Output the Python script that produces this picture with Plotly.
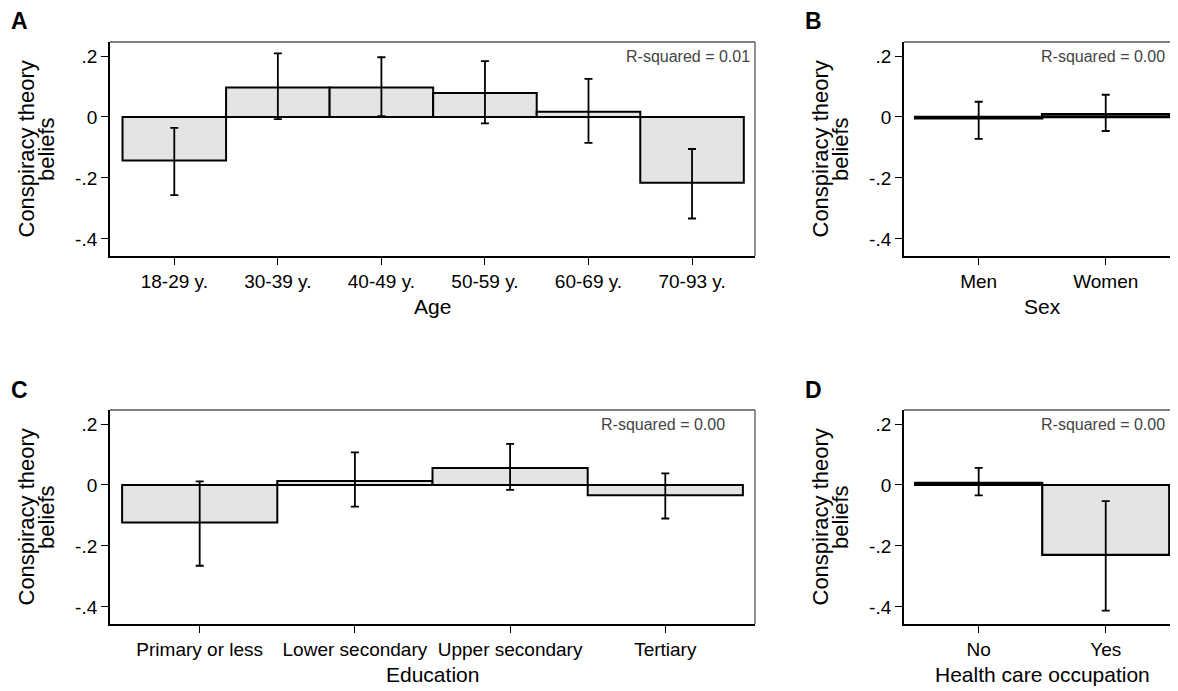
import plotly.graph_objects as go

# ---------------- data ----------------
age_labels = ["18-29 y.", "30-39 y.", "40-49 y.", "50-59 y.", "60-69 y.", "70-93 y."]
age_mean = [-0.143, 0.097, 0.097, 0.079, 0.017, -0.216]
age_lo = [-0.256, -0.007, 0.003, -0.021, -0.085, -0.333]
age_hi = [-0.036, 0.209, 0.196, 0.183, 0.125, -0.105]

sex_labels = ["Men", "Women"]
sex_mean = [-0.004, 0.009]
sex_lo = [-0.072, -0.046]
sex_hi = [0.050, 0.073]

edu_labels = ["Primary or less", "Lower secondary", "Upper secondary", "Tertiary"]
edu_mean = [-0.123, 0.013, 0.056, -0.034]
edu_lo = [-0.265, -0.071, -0.016, -0.110]
edu_hi = [0.012, 0.107, 0.135, 0.038]

hc_labels = ["No", "Yes"]
hc_mean = [0.007, -0.229]
hc_lo = [-0.034, -0.412]
hc_hi = [0.056, -0.053]

r2_texts = ["R-squared = 0.01", "R-squared = 0.00", "R-squared = 0.00", "R-squared = 0.00"]
panel_letters = ["A", "B", "C", "D"]
x_titles = ["Age", "Sex", "Education", "Health care occupation"]
y_title_lines = ["Conspiracy theory", "beliefs"]
y_tickvals = [0.2, 0, -0.2, -0.4]
y_ticktext = [".2", "0", "-.2", "-.4"]

# ---------------- layout helpers ----------------
# page has an 8px body margin; figure is sized so it ends at the window edge
OFF = 8
W, H = 1178 - OFF, 691 - OFF
FONT = "Liberation Sans, Arial, sans-serif"


def px(x):
    return (x - OFF) / W


def py(y):
    return 1 - (y - OFF) / H


panels = [
    dict(labels=age_labels, mean=age_mean, lo=age_lo, hi=age_hi,
         xd=(110, 755), yd=(42, 256), xr=[-0.621, 5.608], lw=2),
    dict(labels=sex_labels, mean=sex_mean, lo=sex_lo, hi=sex_hi,
         xd=(904, 1178), yd=(42, 256), xr=[-0.588, 1.569], lw=2.4),
    dict(labels=edu_labels, mean=edu_mean, lo=edu_lo, hi=edu_hi,
         xd=(110, 755), yd=(410, 624), xr=[-0.578, 3.578], lw=2),
    dict(labels=hc_labels, mean=hc_mean, lo=hc_lo, hi=hc_hi,
         xd=(904, 1178), yd=(410, 624), xr=[-0.588, 1.569], lw=2.2),
]

fig = go.Figure()
layout = dict(width=W, height=H, margin=dict(l=0, r=0, t=0, b=0),
              paper_bgcolor="white", plot_bgcolor="white",
              showlegend=False, font=dict(family=FONT, color="black"))
shapes = []
annotations = []

for i, p in enumerate(panels):
    n = "" if i == 0 else str(i + 1)
    xa, ya = "x" + n, "y" + n
    up = [h - m for h, m in zip(p["hi"], p["mean"])]
    dn = [m - l for m, l in zip(p["mean"], p["lo"])]
    fig.add_trace(go.Bar(
        x=p["labels"], y=p["mean"], width=1.0,
        marker=dict(color="#e4e4e4", line=dict(color="black", width=p["lw"])),
        error_y=dict(type="data", symmetric=False, array=up, arrayminus=dn,
                     color="black", thickness=1.8, width=4),
        xaxis=xa, yaxis=ya, hoverinfo="skip"))
    layout["xaxis" + n] = dict(
        domain=[px(p["xd"][0]), px(p["xd"][1])], anchor=ya, range=p["xr"],
        type="category", showline=True, linecolor="black", linewidth=1.8,
        ticks="outside", ticklen=7, tickwidth=1.3, tickcolor="black",
        tickfont=dict(size=19, family=FONT, color="black"),
        showgrid=False, zeroline=False, fixedrange=True)
    layout["yaxis" + n] = dict(
        domain=[py(p["yd"][1]), py(p["yd"][0])], anchor=xa, range=[-0.456, 0.246],
        showline=True, linecolor="black", linewidth=1.8,
        ticks="outside", ticklen=7, tickwidth=1.3, tickcolor="black",
        tickvals=y_tickvals, ticktext=y_ticktext,
        tickfont=dict(size=19, family=FONT, color="black"),
        showgrid=False, zeroline=False, fixedrange=True)
    shapes.append(dict(type="line", xref=xa + " domain", yref=ya + " domain",
                       x0=0, x1=1, y0=1, y1=1, line=dict(color="#555555", width=1.3)))
    if p["xd"][1] < 1178:
        shapes.append(dict(type="line", xref=xa + " domain", yref=ya + " domain",
                           x0=1, x1=1, y0=0, y1=1, line=dict(color="#555555", width=1.3)))

    left, right = p["xd"]
    top, bottom = p["yd"]
    off_x = left - 110
    off_y = top - 42
    annotations.append(dict(text="<b>%s</b>" % panel_letters[i], x=px(19.5 + off_x),
                            y=py(21.5 + off_y), xref="paper", yref="paper",
                            xanchor="center", yanchor="middle", showarrow=False,
                            font=dict(size=23, family=FONT, color="black")))
    annotations.append(dict(text=y_title_lines[0], x=px(25.5 + off_x), y=py((top + bottom) / 2),
                            xref="paper", yref="paper", xanchor="center", yanchor="middle",
                            textangle=-90, showarrow=False,
                            font=dict(size=22, family=FONT, color="black")))
    annotations.append(dict(text=y_title_lines[1], x=px(46 + off_x), y=py((top + bottom) / 2),
                            xref="paper", yref="paper", xanchor="center", yanchor="middle",
                            textangle=-90, showarrow=False,
                            font=dict(size=22, family=FONT, color="black")))
    xc = (left + (right if right < 1178 else 1181)) / 2
    annotations.append(dict(text=x_titles[i], x=px(xc),
                            y=py(306 + off_y), xref="paper", yref="paper",
                            xanchor="center", yanchor="middle", showarrow=False,
                            font=dict(size=21, family=FONT, color="black")))
    r2x = [752, 1167, 727, 1167][i]
    annotations.append(dict(text=r2_texts[i], x=px(r2x), y=py(56.5 + off_y),
                            xref="paper", yref="paper", xanchor="right", yanchor="middle",
                            showarrow=False,
                            font=dict(size=16, family=FONT, color="#444444")))

layout["shapes"] = shapes
layout["annotations"] = annotations
fig.update_layout(**layout)
fig.write_html("out.html")
